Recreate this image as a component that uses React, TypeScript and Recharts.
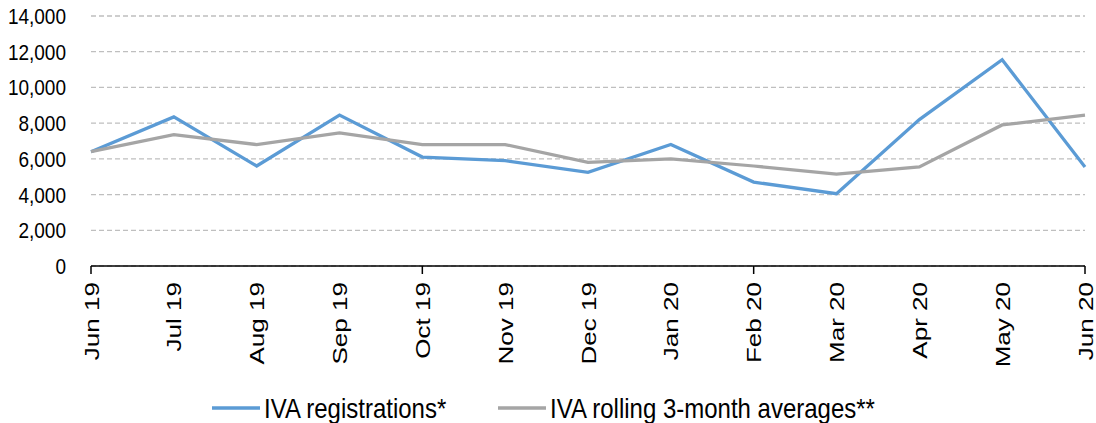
import { CartesianGrid, Legend, Line, LineChart, XAxis, YAxis } from "recharts";

const months = [
  "Jun 19", "Jul 19", "Aug 19", "Sep 19", "Oct 19", "Nov 19", "Dec 19",
  "Jan 20", "Feb 20", "Mar 20", "Apr 20", "May 20", "Jun 20",
];
const registrations = [6400, 8350, 5600, 8450, 6100, 5900, 5250, 6800, 4700, 4050, 8200, 11550, 5550];
const rolling = [6400, 7350, 6800, 7450, 6800, 6800, 5800, 6000, 5600, 5150, 5550, 7900, 8450];
const yTicks = [0, 2000, 4000, 6000, 8000, 10000, 12000, 14000];
const seriesNames = ["IVA registrations*", "IVA rolling 3-month averages**"];

const data = months.map((m, i) => ({ month: m, reg: registrations[i], avg: rolling[i] }));

const W = 1096;
const H = 423;
const X_AXIS_H = 110;
const LEGEND_H = 47;
const FONT = "'Liberation Sans', Arial, sans-serif";
const LEGEND_X = [212, 498];

function YTick({ x, y, payload }: any) {
  return (
    <text
      transform={`translate(${x - 25},${y}) scale(1,1.16)`}
      textAnchor="end"
      dy="0.36em"
      fontSize={19}
      fontFamily={FONT}
      fill="#000"
    >
      {payload.value.toLocaleString("en-US")}
    </text>
  );
}

function XTick({ x, y, payload, index }: any) {
  return (
    <g>
      {index % 4 === 0 && <line x1={x} x2={x} y1={y} y2={y + 8} stroke="#000" strokeWidth={1.5} />}
      <text
        transform={`translate(${x},${y + 16}) rotate(-90) scale(1.24,1)`}
        textAnchor="end"
        dy="0.36em"
        fontSize={21}
        fontFamily={FONT}
        fill="#000"
      >
        {payload.value}
      </text>
    </g>
  );
}

function LegendContent({ payload }: any) {
  return (
    <svg width={W} height={LEGEND_H} style={{ display: "block" }}>
      {(payload || []).map((entry: any, i: number) => (
        <g key={entry.value}>
          <line x1={LEGEND_X[i]} x2={LEGEND_X[i] + 48} y1={32} y2={32} stroke={entry.color} strokeWidth={3.5} />
          <text
            transform={`translate(${LEGEND_X[i] + 52},42) scale(1,1.17)`}
            fontSize={24}
            fontFamily={FONT}
            fill="#000"
          >
            {entry.value}
          </text>
        </g>
      ))}
    </svg>
  );
}

export default function App() {
  return (
    <div style={{ position: "absolute", left: 0, top: 0, background: "#fff" }}>
      <LineChart width={W} height={H} data={data} margin={{ top: 16, right: 11, bottom: 0, left: 0 }}>
        <CartesianGrid vertical={false} stroke="#BFBFBF" strokeWidth={1.3} strokeDasharray="5 3" />
        <XAxis
          dataKey="month"
          interval={0}
          height={X_AXIS_H}
          tickSize={0}
          tickMargin={0}
          tickLine={false}
          axisLine={{ stroke: "#000", strokeWidth: 1.5 }}
          tick={<XTick />}
        />
        <YAxis
          domain={[0, 14000]}
          ticks={yTicks}
          width={91}
          tickSize={0}
          tickMargin={0}
          axisLine={false}
          tickLine={false}
          tick={<YTick />}
        />
        <Legend verticalAlign="bottom" wrapperStyle={{ left: 0, width: W }} content={<LegendContent />} />
        <Line
          dataKey="reg"
          name={seriesNames[0]}
          stroke="#5B9BD5"
          strokeWidth={3.25}
          dot={false}
          isAnimationActive={false}
        />
        <Line
          dataKey="avg"
          name={seriesNames[1]}
          stroke="#A5A5A5"
          strokeWidth={3.25}
          dot={false}
          isAnimationActive={false}
        />
      </LineChart>
    </div>
  );
}
